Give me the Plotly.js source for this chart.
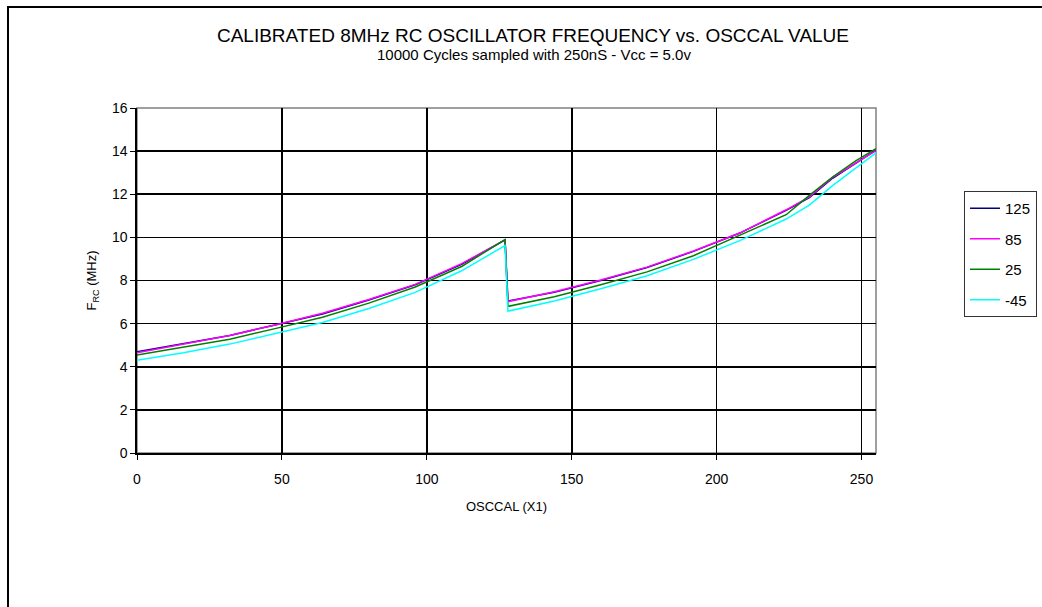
<!DOCTYPE html>
<html>
<head>
<meta charset="utf-8">
<script src="https://cdn.plot.ly/plotly-3.0.1.min.js"></script>
<style>
html,body{margin:0;padding:0;background:#fff;}
#chart{width:1042px;height:607px;}
</style>
</head>
<body>
<div id="chart"></div>
<script>
// OSCCAL sample positions
const osccal = [0, 16, 32, 48, 64, 80, 96, 112, 127, 128, 144, 160, 176, 192, 208, 224, 232, 240, 248, 255];

// Frequency (MHz) per temperature series
const f125 = [4.70, 5.08, 5.45, 5.95, 6.45, 7.10, 7.80, 8.75, 9.88, 7.05, 7.45, 8.00, 8.60, 9.35, 10.20, 11.25, 11.84, 12.74, 13.45, 14.05];
const f85  = [4.65, 5.05, 5.45, 5.95, 6.48, 7.12, 7.82, 8.78, 9.88, 7.02, 7.48, 8.02, 8.62, 9.37, 10.20, 11.28, 11.88, 12.78, 13.45, 14.02];
const f25  = [4.55, 4.90, 5.28, 5.78, 6.30, 6.95, 7.70, 8.65, 9.90, 6.80, 7.25, 7.80, 8.40, 9.15, 10.10, 11.05, 11.95, 12.80, 13.55, 14.12];
const fm45 = [4.30, 4.65, 5.05, 5.55, 6.05, 6.70, 7.45, 8.45, 9.62, 6.58, 7.05, 7.62, 8.22, 8.98, 9.85, 10.85, 11.50, 12.40, 13.20, 13.92];

const seriesNames = ["125", "85", "25", "-45"];
const seriesData = [f125, f85, f25, fm45];
const seriesColors = ["#000080", "#FF00FF", "#008000", "#00FFFF"];

const xTicks = [0, 50, 100, 150, 200, 250];
const yTicks = [0, 2, 4, 6, 8, 10, 12, 14, 16];

const titleText = "CALIBRATED 8MHz RC OSCILLATOR FREQUENCY vs. OSCCAL VALUE";
const subtitleText = "10000 Cycles sampled with 250nS - Vcc = 5.0v";

const FONT = "Liberation Sans, Arial, sans-serif";

const traces = seriesNames.map((n, i) => ({
  x: osccal,
  y: seriesData[i],
  name: n,
  legendgroup: n,
  type: "scatter",
  mode: "lines",
  line: {color: seriesColors[i], width: 1.5}
}));

const L = 137, R = 876, T = 108, B = 453;
const W = 1042, H = 607;
const pw = R - L, ph = B - T;
const px = v => (v - L) / pw;
const py = v => (B - v) / ph;

const layout = {
  width: W, height: H,
  margin: {l: L, r: W - R, t: T, b: H - B, pad: 0, autoexpand: false},
  paper_bgcolor: "#fff",
  plot_bgcolor: "#fff",
  font: {family: FONT, color: "#000", size: 13},
  showlegend: true,
  title: {
    text: titleText,
    font: {family: FONT, size: 19, color: "#000"},
    x: 533 / W, xref: "container", xanchor: "center",
    y: 1 - 35 / H, yref: "container", yanchor: "middle"
  },
  annotations: [
    {text: subtitleText, xref: "paper", yref: "paper", x: px(534), xanchor: "center",
     y: py(54), yanchor: "middle", showarrow: false,
     font: {family: FONT, size: 15, color: "#000"}}
  ],
  xaxis: {
    range: [0, 255],
    tickvals: xTicks,
    ticks: "outside", ticklen: 5, tickcolor: "#000", tickwidth: 1,
    ticklabelstandoff: 8,
    showgrid: true, gridcolor: "#000", gridwidth: 1.6,
    showline: true, linecolor: "#000", linewidth: 1.6,
    zeroline: false,
    tickfont: {family: FONT, size: 14},
    title: {text: "OSCCAL (X1)", font: {family: FONT, size: 13}, standoff: 15}
  },
  yaxis: {
    range: [0, 16],
    tickvals: yTicks,
    ticks: "outside", ticklen: 5, tickcolor: "#000", tickwidth: 1,
    showgrid: true, gridcolor: "#000", gridwidth: 1.6,
    showline: true, linecolor: "#000", linewidth: 1.6,
    zeroline: false,
    tickfont: {family: FONT, size: 14},
    title: {text: "F<sub>RC</sub> (MHz)", font: {family: FONT, size: 13}, standoff: 12}
  },
  legend: {
    x: px(964), xanchor: "left",
    y: py(191), yanchor: "top",
    bordercolor: "#333", borderwidth: 1,
    bgcolor: "#fff",
    font: {family: FONT, size: 15},
    tracegroupgap: 8,
    traceorder: "grouped"
  },
  shapes: [
    {type: "rect", xref: "paper", yref: "paper", x0: 0, x1: 1, y0: 0, y1: 1,
     line: {color: "#808080", width: 1.5}, layer: "below"},
    {type: "rect", xref: "paper", yref: "paper",
     x0: px(8), x1: px(1060), y0: py(620), y1: py(7),
     line: {color: "#000", width: 2}, fillcolor: "rgba(0,0,0,0)", layer: "above"}
  ]
};

Plotly.newPlot("chart", traces, layout, {displayModeBar: false, staticPlot: true});
</script>
</body>
</html>
